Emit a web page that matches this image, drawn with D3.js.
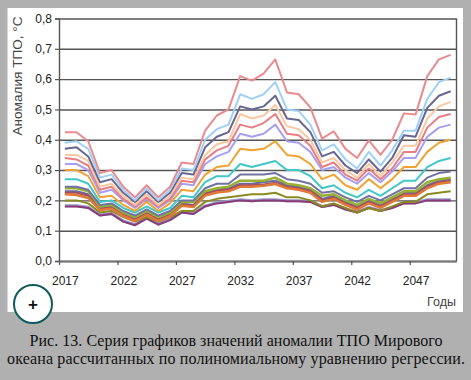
<!DOCTYPE html>
<html>
<head>
<meta charset="utf-8">
<script src="https://cdn.jsdelivr.net/npm/d3@7"></script>
<style>
html, body { margin: 0; padding: 0; background: #b0b0b0; }
svg { display: block; }
text { font-family: "Liberation Sans", sans-serif; }
</style>
</head>
<body>
<svg id="chart" width="471" height="380"></svg>
<script>
var years = d3.range(2017, 2051);
var yTicks = [0, 0.1, 0.2, 0.3, 0.4, 0.5, 0.6, 0.7, 0.8];
var xTicks = [2017, 2022, 2027, 2032, 2037, 2042, 2047];
var yTitle = 'Аномалия ТПО, °С';
var xTitle = 'Годы';
var captionLines = [
	'Рис. 13. Серия графиков значений аномалии ТПО Мирового',
	'океана рассчитанных по полиномиальному уравнению регрессии.'
];

var red1 = [.425,.425,.395,.29,.30,.245,.21,.25,.21,.245,.325,.32,.43,.48,.50,.61,.595,.618,.665,.556,.55,.507,.404,.428,.37,.34,.398,.35,.40,.487,.483,.61,.665,.68];
var blue = [.39,.395,.37,.275,.285,.235,.20,.24,.20,.235,.305,.30,.40,.435,.45,.55,.535,.55,.59,.50,.495,.45,.365,.385,.335,.305,.36,.315,.365,.43,.43,.535,.59,.605];
var navy = [.37,.375,.345,.26,.27,.225,.195,.23,.195,.225,.29,.285,.375,.41,.425,.51,.50,.51,.545,.47,.465,.425,.345,.36,.315,.29,.335,.295,.34,.415,.41,.505,.545,.56];
var peach = [.35,.35,.33,.245,.255,.215,.185,.22,.185,.215,.275,.27,.35,.385,.395,.485,.47,.48,.515,.445,.435,.40,.325,.34,.30,.275,.32,.28,.325,.38,.38,.47,.51,.525];
var red2 = [.34,.335,.315,.235,.245,.205,.18,.21,.18,.205,.265,.26,.335,.365,.38,.45,.44,.455,.485,.42,.415,.38,.31,.325,.285,.265,.305,.27,.305,.36,.36,.44,.475,.485];
var lavender = [.32,.32,.30,.225,.235,.20,.175,.205,.175,.20,.255,.25,.32,.345,.36,.42,.41,.42,.45,.395,.39,.36,.30,.31,.275,.255,.29,.26,.295,.34,.34,.41,.44,.45];
var orange1 = [.30,.30,.28,.21,.215,.185,.165,.195,.165,.19,.235,.23,.285,.31,.315,.37,.365,.37,.395,.35,.345,.32,.27,.285,.25,.235,.27,.24,.27,.31,.31,.36,.39,.40];
var teal = [.27,.27,.255,.195,.20,.175,.16,.18,.16,.175,.215,.21,.26,.28,.28,.32,.31,.32,.33,.30,.30,.28,.24,.25,.225,.21,.235,.215,.24,.265,.265,.31,.33,.34];
var slate1 = [.245,.245,.235,.185,.19,.165,.15,.17,.15,.165,.20,.20,.24,.255,.255,.285,.285,.285,.29,.27,.265,.255,.225,.23,.21,.195,.215,.20,.22,.24,.24,.275,.29,.295];
var green = [.24,.24,.23,.18,.185,.16,.145,.165,.145,.16,.195,.195,.23,.24,.245,.265,.265,.265,.275,.255,.25,.24,.215,.22,.20,.185,.205,.19,.21,.23,.23,.26,.27,.275];
var slate2 = [.23,.23,.22,.175,.18,.155,.14,.16,.14,.155,.19,.185,.225,.235,.24,.255,.255,.26,.265,.25,.245,.235,.205,.215,.195,.18,.20,.185,.205,.225,.225,.25,.265,.27];
var wine = [.225,.225,.215,.172,.177,.152,.137,.157,.137,.152,.187,.182,.222,.232,.236,.25,.25,.252,.258,.245,.24,.23,.20,.21,.19,.176,.195,.18,.20,.22,.22,.245,.26,.265];
var orange2 = [.22,.218,.208,.168,.172,.148,.132,.152,.132,.148,.182,.178,.216,.226,.23,.245,.245,.248,.254,.24,.235,.225,.195,.205,.185,.17,.19,.175,.195,.215,.215,.24,.255,.26];
var olive = [.20,.20,.19,.16,.165,.145,.13,.145,.13,.145,.165,.165,.195,.205,.21,.215,.22,.22,.225,.21,.21,.20,.18,.19,.175,.16,.175,.165,.18,.195,.195,.22,.225,.23];
var steel = [.182,.182,.177,.152,.157,.132,.12,.142,.122,.137,.162,.157,.182,.192,.197,.202,.199,.202,.202,.199,.199,.197,.18,.187,.172,.162,.177,.167,.177,.192,.192,.202,.202,.202];
var plum = [.18,.18,.175,.15,.155,.13,.118,.14,.12,.135,.16,.155,.18,.19,.195,.20,.197,.20,.20,.197,.197,.195,.178,.185,.17,.16,.175,.165,.175,.19,.19,.20,.20,.20];

// painted bottom to top
var series = [
	{ values: steel, color: '#9a9ac8', width: 3 },
	{ values: plum, color: '#8a3a78', width: 2 },
	{ values: olive, color: '#8a8a22', width: 2 },
	{ values: slate2, color: '#6a6a9a', width: 2 },
	{ values: wine, color: '#a84a62', width: 2 },
	{ values: green, color: '#98b032', width: 2.5 },
	{ values: orange2, color: '#e07a38', width: 2.5 },
	{ values: slate1, color: '#7272a2', width: 2 },
	{ values: teal, color: '#40c8c8', width: 2 },
	{ values: orange1, color: '#f0a332', width: 2 },
	{ values: lavender, color: '#a8a0ee', width: 2 },
	{ values: red2, color: '#e87e84', width: 2 },
	{ values: peach, color: '#fac9a2', width: 2 },
	{ values: navy, color: '#666690', width: 2 },
	{ values: blue, color: '#a0d0f6', width: 2 },
	{ values: red1, color: '#ea8a8e', width: 2 }
];

var svg = d3.select('#chart');

var plotLeft = 59, plotRight = 456.5, plotTop = 18.5, plotBottom = 261;

var xScale = d3.scaleLinear().domain([2017, 2051]).range([plotLeft, plotRight]);
var yScale = d3.scaleLinear().domain([0, 0.8]).range([plotBottom, plotTop]);
var halfBand = (xScale(2018) - xScale(2017)) / 2;

svg.append('rect')
	.attr('x', 7.5).attr('y', 8)
	.attr('width', 455.5).attr('height', 304)
	.attr('fill', '#fff');

// grid lines sit under the data
var grid = svg.append('g')
	.attr('transform', 'translate(' + plotLeft + ',0)')
	.call(d3.axisLeft(yScale).tickValues(yTicks).tickSize(-(plotRight - plotLeft)).tickFormat(''));
grid.select('.domain').remove();
grid.selectAll('line').attr('stroke', '#555').attr('stroke-width', 1.4);

var line = d3.line()
	.x(function(d, i) { return xScale(years[i]) + halfBand; })
	.y(function(d) { return yScale(d); });

svg.append('g').selectAll('path').data(series).enter().append('path')
	.attr('d', function(d) { return line(d.values); })
	.attr('fill', 'none')
	.attr('stroke', function(d) { return d.color; })
	.attr('stroke-width', function(d) { return d.width; })
	.attr('stroke-linejoin', 'round');

var leftAxis = svg.append('g')
	.attr('transform', 'translate(' + plotLeft + ',0)')
	.call(d3.axisLeft(yScale).tickValues(yTicks).tickSize(4).tickPadding(3)
		.tickFormat(function(d) { return d3.format('.1f')(d).replace('.', ','); }));
leftAxis.select('.domain').attr('stroke', '#555').attr('stroke-width', 1.4);
leftAxis.selectAll('line').attr('stroke', '#555').attr('stroke-width', 1.2);
leftAxis.selectAll('text').attr('font-size', 12).attr('fill', '#222').style('font-family', '"Liberation Sans", sans-serif');

var bottomAxis = svg.append('g')
	.attr('transform', 'translate(0,' + plotBottom + ')')
	.call(d3.axisBottom(xScale).tickValues(xTicks).tickSize(4).tickPadding(11).tickSizeOuter(0)
		.tickFormat(function(d) { return d; }));
bottomAxis.select('.domain').attr('stroke', '#777').attr('stroke-width', 2);
bottomAxis.selectAll('line').attr('stroke', '#555').attr('stroke-width', 1.2);
bottomAxis.selectAll('text')
	.attr('x', halfBand)
	.attr('font-size', 12)
	.attr('fill', '#222')
	.style('font-family', '"Liberation Sans", sans-serif');

// right border of the frame
svg.append('line')
	.attr('x1', plotRight).attr('x2', plotRight)
	.attr('y1', plotTop).attr('y2', plotBottom)
	.attr('stroke', '#555').attr('stroke-width', 1.4);

svg.append('text')
	.attr('transform', 'translate(21.5,76) rotate(-90)')
	.attr('text-anchor', 'middle')
	.attr('font-size', 13.6)
	.attr('fill', '#444')
	.text(yTitle);

svg.append('text')
	.attr('x', 456).attr('y', 306)
	.attr('text-anchor', 'end')
	.attr('font-size', 12.5)
	.attr('fill', '#444')
	.text(xTitle);

// plus badge
svg.append('circle')
	.attr('cx', 33).attr('cy', 304).attr('r', 19)
	.attr('fill', '#fff')
	.attr('stroke', '#0f5a5a')
	.attr('stroke-width', 2);
svg.append('text')
	.attr('x', 33).attr('y', 310)
	.attr('text-anchor', 'middle')
	.attr('font-size', 17)
	.attr('font-weight', 'bold')
	.attr('fill', '#111')
	.text('+');

// the scan's lines are set wider than the font, so stretch the spacing to fit
var captionWidths = [413, 458];
svg.append('g').selectAll('text').data(captionLines).enter().append('text')
	.attr('x', 236)
	.attr('y', function(d, i) { return 346 + i * 18; })
	.attr('text-anchor', 'middle')
	.attr('font-size', 16)
	.attr('fill', '#111')
	.attr('textLength', function(d, i) { return captionWidths[i]; })
	.attr('lengthAdjust', 'spacing')
	.style('font-family', '"Liberation Serif", serif')
	.text(function(d) { return d; });
</script>
</body>
</html>
